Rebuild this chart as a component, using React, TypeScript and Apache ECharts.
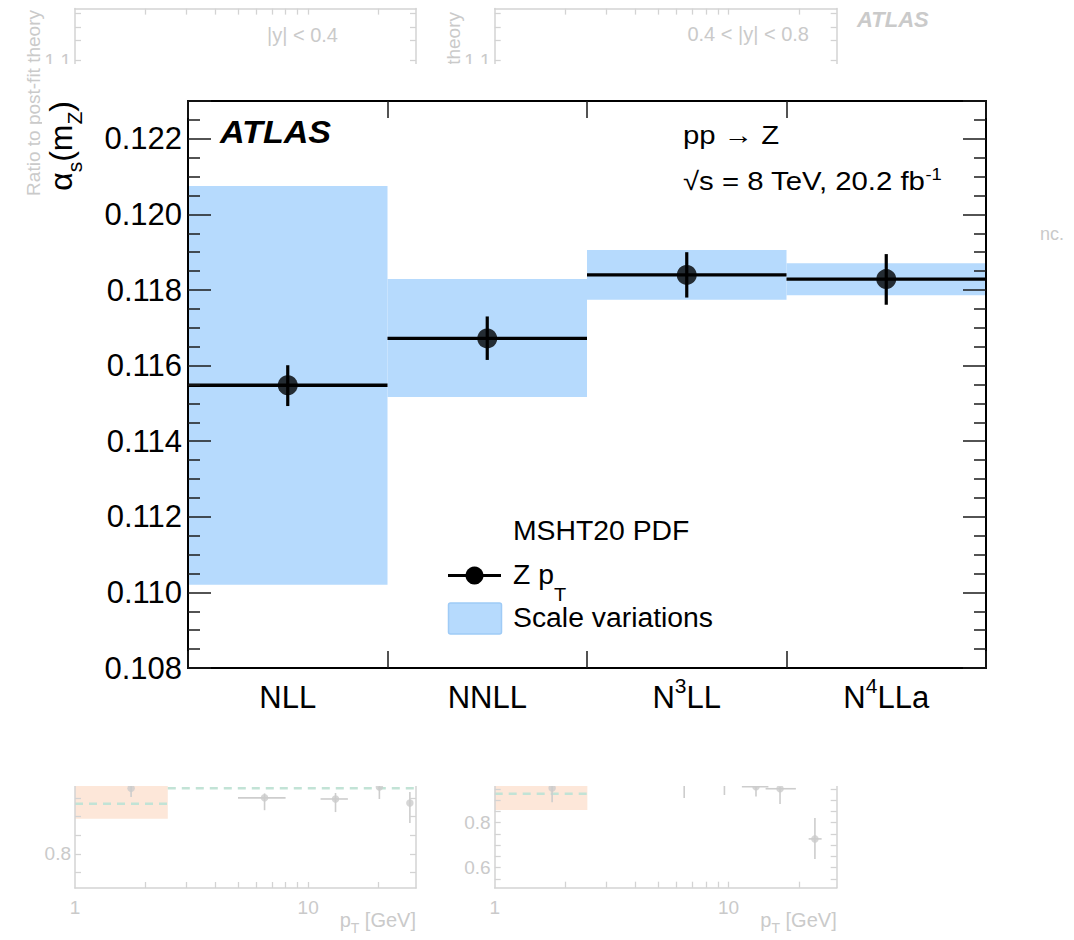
import { useEffect, useRef } from 'react';
import * as echarts from 'echarts';

const FONT = "'Liberation Sans', Arial, Helvetica, sans-serif";
const BAND = '#b6dafd';
const GHOST_LINE = '#d3d3d3';
const GHOST_TEXT = '#cacaca';

// ---------------- main chart data ----------------
const orderLabels = ['NLL', 'NNLL', 'N3LL', 'N4LLa'];
const orderLabelsRich = ['{n|NLL}', '{n|NNLL}', '{n|N}{s|3}{n|LL}', '{n|N}{s|4}{n|LLa}'];
const alphaS = [0.11548, 0.11672, 0.1184, 0.11829];
const alphaSErrHigh = [0.11601, 0.1173, 0.119, 0.11895];
const alphaSErrLow = [0.11493, 0.11615, 0.1178, 0.11761];
const scaleVarHigh = [0.12075, 0.11829, 0.11906, 0.11871];
const scaleVarLow = [0.1102, 0.11517, 0.11774, 0.11786];
const yAxisMin = 0.108;
const yAxisMax = 0.123;
const yMajorStep = 0.002;
const yMinorSplit = 4;

// ---------------- faded background figure (ghost) ----------------
const ghostPtRange = [1, 29];
const ghostPtTicks = [2, 3, 4, 5, 6, 7, 8, 9, 10, 20];
const ghostPtLabels = [1, 10];
const ghostTopRange = [0.8895, 1.1773];
const ghostTopTicks = [1.1, 1.13, 1.15, 1.17];
const ghostTopLabels = [1.1];
const ghostLeftRange = [0.709, 1.1047];
const ghostLeftTicks = [0.75, 0.8, 0.85, 0.9, 0.95];
const ghostLeftLabels = [0.8];
const ghostRightRange = [0.5111, 1.1676];
const ghostRightTicks = [0.55, 0.6, 0.65, 0.7, 0.75, 0.8, 0.85, 0.9, 0.95];
const ghostRightLabels = [0.6, 0.8];

const ghostLeftPt = [1.74, 6.5, 13.1, 20.2, 27.3];
const ghostLeftPtLow = [1.74, 5.0, 11.3, 20.2, 27.3];
const ghostLeftPtHigh = [1.74, 8.0, 14.8, 20.2, 27.3];
const ghostLeftRatio = [0.976, 0.95, 0.947, 0.979, 0.936];
const ghostLeftRatioLow = [0.952, 0.917, 0.912, 0.947, 0.883];
const ghostLeftRatioHigh = [1.0, 0.962, 0.963, 1.01, 0.966];
const ghostLeftBand = [1, 2.5, 0.894, 1.05];
const ghostLeftDashed = [
  [1, 2.5, 0.934],
  [2.5, 29, 0.976],
];

const ghostRightPt = [1.76, 6.46, 9.6, 13.1, 16.6, 23.4];
const ghostRightPtLow = [1.76, 6.46, 9.6, 11.4, 14.4, 22.0];
const ghostRightPtHigh = [1.76, 6.46, 9.6, 14.8, 19.4, 25.0];
const ghostRightRatio = [0.954, 1.0, 1.0, 0.96, 0.951, 0.728];
const ghostRightRatioLow = [0.891, 0.91, 0.923, 0.916, 0.883, 0.639];
const ghostRightRatioHigh = [1.02, 1.05, 1.05, 1.02, 0.959, 0.821];
const ghostRightBand = [1, 2.49, 0.857, 1.05];
const ghostRightDashed = [[1, 2.49, 0.929]];

const bandRender = (params: any, api: any) => {
  const i = api.value(0);
  const top = api.coord([i, api.value(2)]);
  const bot = api.coord([i, api.value(1)]);
  const w = api.size([1, 0])[0];
  return {
    type: 'rect',
    shape: { x: top[0] - w / 2, y: top[1], width: w, height: bot[1] - top[1] },
    style: { fill: BAND },
  };
};

const centralRender = (params: any, api: any) => {
  const i = api.value(0);
  const c = api.coord([i, api.value(1)]);
  const hi = api.coord([i, api.value(2)]);
  const lo = api.coord([i, api.value(3)]);
  const w = api.size([1, 0])[0];
  return {
    type: 'group',
    children: [
      {
        type: 'line',
        shape: { x1: c[0] - w / 2, y1: c[1], x2: c[0] + w / 2, y2: c[1] },
        style: { stroke: '#000', lineWidth: 3.3 },
      },
      {
        type: 'line',
        shape: { x1: c[0], y1: hi[1], x2: c[0], y2: lo[1] },
        style: { stroke: '#000', lineWidth: 3.2 },
      },
    ],
  };
};

const ghostBandRender = (params: any, api: any) => {
  const p1 = api.coord([api.value(0), api.value(3)]);
  const p2 = api.coord([api.value(1), api.value(2)]);
  return {
    type: 'rect',
    shape: { x: p1[0], y: p1[1], width: p2[0] - p1[0], height: p2[1] - p1[1] },
    style: { fill: '#fde7d9' },
  };
};

const ghostDashRender = (params: any, api: any) => {
  const p1 = api.coord([api.value(0), api.value(2)]);
  const p2 = api.coord([api.value(1), api.value(2)]);
  return {
    type: 'line',
    shape: { x1: p1[0], y1: p1[1], x2: p2[0], y2: p2[1] },
    style: { stroke: '#c2e3d6', lineWidth: 2.5, lineDash: [8, 6] },
  };
};

const ghostErrRender = (params: any, api: any) => {
  const h1 = api.coord([api.value(2), api.value(1)]);
  const h2 = api.coord([api.value(3), api.value(1)]);
  const v1 = api.coord([api.value(0), api.value(4)]);
  const v2 = api.coord([api.value(0), api.value(5)]);
  return {
    type: 'group',
    children: [
      { type: 'line', shape: { x1: h1[0], y1: h1[1], x2: h2[0], y2: h2[1] }, style: { stroke: '#cdcdcd', lineWidth: 1.6 } },
      { type: 'line', shape: { x1: v1[0], y1: v1[1], x2: v2[0], y2: v2[1] }, style: { stroke: '#cdcdcd', lineWidth: 1.6 } },
    ],
  };
};

const ghostAxisLine = { show: true, lineStyle: { color: GHOST_LINE, width: 1.5 } };
const ghostTick = (values: number[]) => ({
  show: true,
  inside: true,
  length: 6,
  customValues: values,
  lineStyle: { color: GHOST_LINE, width: 1.3 },
});
const ghostLabel = (values: number[], margin: number, fmt: (v: number) => string) => ({
  show: true,
  customValues: values,
  color: GHOST_TEXT,
  fontFamily: FONT,
  fontSize: 19,
  margin,
  formatter: fmt,
});
const noLabel = { show: false };

const ghostX = (gridIndex: number, position: string, withLabels: boolean) => ({
  type: 'log',
  logBase: 10,
  gridIndex,
  position,
  min: ghostPtRange[0],
  max: ghostPtRange[1],
  axisLine: ghostAxisLine,
  axisTick: ghostTick(ghostPtTicks),
  axisLabel: withLabels ? ghostLabel(ghostPtLabels, 10, (v: number) => String(Math.round(v))) : noLabel,
  splitLine: { show: false },
  minorSplitLine: { show: false },
  z: 0,
  silent: true,
});

const ghostY = (
  gridIndex: number,
  position: string,
  range: number[],
  ticks: number[],
  labels: number[] | null,
) => ({
  type: 'value',
  gridIndex,
  position,
  min: range[0],
  max: range[1],
  axisLine: ghostAxisLine,
  axisTick: ghostTick(ticks),
  axisLabel: labels ? ghostLabel(labels, 4, (v: number) => v.toFixed(1)) : noLabel,
  splitLine: { show: false },
  z: 0,
  silent: true,
});

const ghostSeries = (
  xi: number,
  yi: number,
  band: number[],
  dashed: number[][],
  pt: number[],
  ptLow: number[],
  ptHigh: number[],
  r: number[],
  rLow: number[],
  rHigh: number[],
) => [
  {
    type: 'custom',
    xAxisIndex: xi,
    yAxisIndex: yi,
    renderItem: ghostBandRender,
    data: [band],
    encode: { x: [0, 1], y: [2, 3] },
    z: 0,
    silent: true,
  },
  {
    type: 'custom',
    xAxisIndex: xi,
    yAxisIndex: yi,
    renderItem: ghostDashRender,
    data: dashed,
    encode: { x: [0, 1], y: [2] },
    z: 0,
    silent: true,
  },
  {
    type: 'custom',
    xAxisIndex: xi,
    yAxisIndex: yi,
    renderItem: ghostErrRender,
    data: pt.map((p, i) => [p, r[i], ptLow[i], ptHigh[i], rLow[i], rHigh[i]]),
    encode: { x: [0, 2, 3], y: [1, 4, 5] },
    z: 0,
    silent: true,
  },
  {
    type: 'scatter',
    xAxisIndex: xi,
    yAxisIndex: yi,
    data: pt.map((p, i) => [p, r[i]]),
    symbol: 'circle',
    symbolSize: 7.5,
    itemStyle: { color: '#cccccc' },
    z: 0,
    silent: true,
  },
];

const ghostPtTitle = (x: number) => ({
  type: 'text', x, y: 920, z: 0, silent: true,
  style: {
    text: '{a|p}{b|T}{a| [GeV]}', align: 'right', verticalAlign: 'middle', fill: GHOST_TEXT,
    rich: {
      a: { fontFamily: FONT, fontSize: 20, lineHeight: 30, fill: GHOST_TEXT },
      b: { fontFamily: FONT, fontSize: 14, lineHeight: 14, verticalAlign: 'bottom', fill: GHOST_TEXT },
    },
  },
});

function App() {
  const ref = useRef<HTMLDivElement>(null);

  useEffect(() => {
    if (!ref.current) return;
    const chart = echarts.init(ref.current, undefined, { renderer: 'svg' });

    const tickStyle = { color: '#1a1a1a', width: 1.5 };
    const mainTick = (len: number) => ({
      show: true,
      inside: true,
      length: len,
      lineStyle: tickStyle,
    });
    const mainMinorTick = { show: true, splitNumber: yMinorSplit, length: 12, lineStyle: tickStyle };
    const frameLine = { show: true, lineStyle: { color: '#000', width: 2 } };

    const option: any = {
      animation: false,
      backgroundColor: '#ffffff',
      grid: [
        { left: 188, top: 101, width: 798, height: 567 },
        { left: 75, top: 8.6, width: 341, height: 191.4 },
        { left: 494.7, top: 8.6, width: 342, height: 191.4 },
        { left: 75, top: 740, width: 341, height: 148 },
        { left: 494.7, top: 740, width: 342, height: 147.7 },
      ],
      xAxis: [
        {
          type: 'category',
          gridIndex: 0,
          position: 'bottom',
          data: orderLabels,
          boundaryGap: true,
          axisLine: frameLine,
          axisTick: { ...mainTick(17), alignWithLabel: false },
          axisLabel: {
            interval: 0,
            margin: 7,
            formatter: (v: string, idx: number) => orderLabelsRich[idx],
            rich: {
              n: { fontFamily: FONT, fontSize: 31, lineHeight: 44, color: '#000' },
              s: { fontFamily: FONT, fontSize: 21, lineHeight: 21, verticalAlign: 'top', color: '#000' },
            },
          },
          splitLine: { show: false },
          z: 10,
        },
        {
          type: 'category',
          gridIndex: 0,
          position: 'top',
          data: orderLabels,
          boundaryGap: true,
          axisLine: frameLine,
          axisTick: { ...mainTick(17), alignWithLabel: false },
          axisLabel: noLabel,
          splitLine: { show: false },
          z: 10,
        },
        ghostX(1, 'top', false),
        ghostX(2, 'top', false),
        ghostX(3, 'bottom', true),
        ghostX(4, 'bottom', true),
      ],
      yAxis: [
        {
          type: 'value',
          gridIndex: 0,
          position: 'left',
          min: yAxisMin,
          max: yAxisMax,
          interval: yMajorStep,
          axisLine: frameLine,
          axisTick: mainTick(23),
          minorTick: mainMinorTick,
          axisLabel: {
            showMaxLabel: false,
            margin: 6,
            fontFamily: FONT,
            fontSize: 31,
            color: '#000',
            formatter: (v: number) => v.toFixed(3),
          },
          splitLine: { show: false },
          minorSplitLine: { show: false },
          z: 10,
        },
        {
          type: 'value',
          gridIndex: 0,
          position: 'right',
          min: yAxisMin,
          max: yAxisMax,
          interval: yMajorStep,
          axisLine: frameLine,
          axisTick: mainTick(23),
          minorTick: mainMinorTick,
          axisLabel: noLabel,
          splitLine: { show: false },
          minorSplitLine: { show: false },
          z: 10,
        },
        ghostY(1, 'left', ghostTopRange, ghostTopTicks, ghostTopLabels),
        ghostY(1, 'right', ghostTopRange, ghostTopTicks, null),
        ghostY(2, 'left', ghostTopRange, ghostTopTicks, ghostTopLabels),
        ghostY(2, 'right', ghostTopRange, ghostTopTicks, null),
        ghostY(3, 'left', ghostLeftRange, ghostLeftTicks, ghostLeftLabels),
        ghostY(3, 'right', ghostLeftRange, ghostLeftTicks, null),
        ghostY(4, 'left', ghostRightRange, ghostRightTicks, ghostRightLabels),
        ghostY(4, 'right', ghostRightRange, ghostRightTicks, null),
      ],
      series: [
        ...ghostSeries(4, 6, ghostLeftBand, ghostLeftDashed, ghostLeftPt, ghostLeftPtLow, ghostLeftPtHigh,
          ghostLeftRatio, ghostLeftRatioLow, ghostLeftRatioHigh),
        ...ghostSeries(5, 8, ghostRightBand, ghostRightDashed, ghostRightPt, ghostRightPtLow, ghostRightPtHigh,
          ghostRightRatio, ghostRightRatioLow, ghostRightRatioHigh),
        {
          name: 'Scale variations',
          type: 'custom',
          xAxisIndex: 0,
          yAxisIndex: 0,
          renderItem: bandRender,
          data: orderLabels.map((_, i) => [i, scaleVarLow[i], scaleVarHigh[i]]),
          encode: { x: 0, y: [1, 2] },
          z: 2,
          silent: true,
        },
        {
          name: 'Z pT',
          type: 'custom',
          xAxisIndex: 0,
          yAxisIndex: 0,
          renderItem: centralRender,
          data: orderLabels.map((_, i) => [i, alphaS[i], alphaSErrHigh[i], alphaSErrLow[i]]),
          encode: { x: 0, y: [1, 2, 3] },
          z: 3,
          silent: true,
        },
        {
          name: 'Z pT markers',
          type: 'scatter',
          xAxisIndex: 0,
          yAxisIndex: 0,
          data: orderLabels.map((_, i) => [i, alphaS[i]]),
          symbol: 'circle',
          symbolSize: 20,
          itemStyle: { color: '#000' },
          z: 4,
          silent: true,
        },
      ],
      graphic: [
        // white sheet of the front figure over the faded one
        { type: 'rect', shape: { x: 42, y: 64, width: 988, height: 722 }, style: { fill: '#ffffff' }, z: 1, silent: true },
        // faded background texts
        {
          type: 'text', x: 33, y: 10, rotation: Math.PI / 2, z: 0, silent: true,
          style: { text: 'Ratio to post-fit theory', fontFamily: FONT, fontSize: 19, fill: GHOST_TEXT, align: 'right', verticalAlign: 'middle' },
        },
        {
          type: 'text', x: 453, y: 12, rotation: Math.PI / 2, z: 0, silent: true,
          style: { text: 'Ratio to post-fit theory', fontFamily: FONT, fontSize: 19, fill: GHOST_TEXT, align: 'right', verticalAlign: 'middle' },
        },
        {
          type: 'text', x: 338, y: 35, z: 0, silent: true,
          style: { text: '|y| < 0.4', fontFamily: FONT, fontSize: 20, fill: GHOST_TEXT, align: 'right', verticalAlign: 'middle' },
        },
        {
          type: 'text', x: 809, y: 34, z: 0, silent: true,
          style: { text: '0.4 < |y| < 0.8', fontFamily: FONT, fontSize: 20, fill: GHOST_TEXT, align: 'right', verticalAlign: 'middle' },
        },
        {
          type: 'text', x: 857, y: 19, z: 0, silent: true,
          style: { text: 'ATLAS', fontFamily: FONT, fontSize: 22, fontWeight: 'bold', fontStyle: 'italic', fill: GHOST_TEXT, align: 'left', verticalAlign: 'middle' },
        },
        {
          type: 'text', x: 1040, y: 234, z: 0, silent: true,
          style: { text: 'nc.', fontFamily: FONT, fontSize: 18, fill: GHOST_TEXT, align: 'left', verticalAlign: 'middle' },
        },
        ghostPtTitle(416),
        ghostPtTitle(836.7),
        // main figure annotations
        {
          type: 'text', x: 61, y: 101, rotation: Math.PI / 2, z: 10, silent: true,
          style: {
            text: '{a|α}{b|s}{a|(m}{b|Z}{a|)}', align: 'right', verticalAlign: 'middle', fill: '#000',
            rich: {
              a: { fontFamily: FONT, fontSize: 32, lineHeight: 48, fill: '#000' },
              b: { fontFamily: FONT, fontSize: 21, lineHeight: 21, verticalAlign: 'bottom', fill: '#000' },
            },
          },
        },
        {
          type: 'text', x: 220, y: 132.5, scaleX: 1.1, z: 10, silent: true,
          style: { text: 'ATLAS', fontFamily: FONT, fontSize: 31, fontWeight: 'bold', fontStyle: 'italic', fill: '#000', align: 'left', verticalAlign: 'middle' },
        },
        {
          type: 'text', x: 683, y: 135, scaleX: 1.15, z: 10, silent: true,
          style: { text: 'pp → Z', fontFamily: FONT, fontSize: 25.5, fill: '#000', align: 'left', verticalAlign: 'middle' },
        },
        {
          type: 'text', x: 683, y: 181, scaleX: 1.15, z: 10, silent: true,
          style: {
            text: '{a|√s = 8 TeV, 20.2 fb}{c|-1}', align: 'left', verticalAlign: 'middle', fill: '#000',
            rich: {
              a: { fontFamily: FONT, fontSize: 25.5, lineHeight: 30, fill: '#000' },
              c: { fontFamily: FONT, fontSize: 16, lineHeight: 16, verticalAlign: 'top', fill: '#000' },
            },
          },
        },
        // legend
        {
          type: 'text', x: 513, y: 531, scaleX: 1.05, z: 10, silent: true,
          style: { text: 'MSHT20 PDF', fontFamily: FONT, fontSize: 27, fill: '#000', align: 'left', verticalAlign: 'middle' },
        },
        { type: 'line', shape: { x1: 448, y1: 575.5, x2: 501, y2: 575.5 }, style: { stroke: '#000', lineWidth: 3.2 }, z: 10, silent: true },
        { type: 'circle', shape: { cx: 474.5, cy: 575.5, r: 9 }, style: { fill: '#000' }, z: 10, silent: true },
        {
          type: 'text', x: 513, y: 575, scaleX: 1.05, z: 10, silent: true,
          style: {
            text: '{a|Z p}{b|T}', align: 'left', verticalAlign: 'middle', fill: '#000',
            rich: {
              a: { fontFamily: FONT, fontSize: 27, lineHeight: 57, fill: '#000' },
              b: { fontFamily: FONT, fontSize: 19, lineHeight: 19, verticalAlign: 'bottom', fill: '#000' },
            },
          },
        },
        {
          type: 'rect', shape: { x: 448.5, y: 603, width: 53, height: 31, r: 2 },
          style: { fill: BAND, stroke: '#9fcbf6', lineWidth: 1.5 }, z: 10, silent: true,
        },
        {
          type: 'text', x: 513, y: 618, scaleX: 1.05, z: 10, silent: true,
          style: { text: 'Scale variations', fontFamily: FONT, fontSize: 27, fill: '#000', align: 'left', verticalAlign: 'middle' },
        },
      ],
    };

    chart.setOption(option);
    return () => {
      chart.dispose();
    };
  }, []);

  return (
    <div style={{ position: 'absolute', left: 0, top: 0, width: 1074, height: 940, background: '#fff' }}>
      <div ref={ref} style={{ width: 1074, height: 940 }} />
    </div>
  );
}

export default App;
